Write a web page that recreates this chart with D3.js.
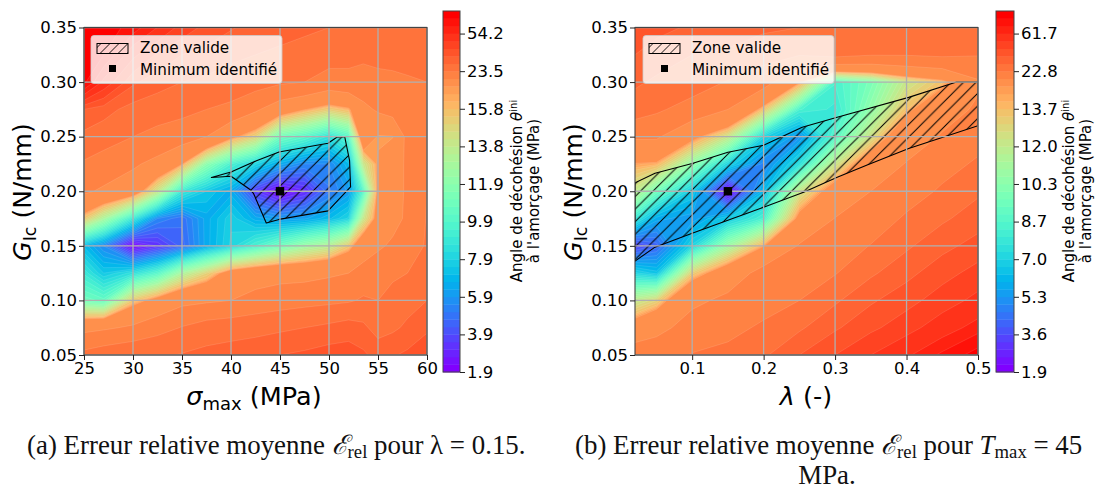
<!DOCTYPE html>
<html><head><meta charset="utf-8">
<script src="https://cdn.jsdelivr.net/npm/d3@7"></script>
<style>html,body{margin:0;padding:0;background:#fff}svg{display:block}</style>
</head><body>
<svg id="c" width="1097" height="490"></svg>
<script>
const gRows=[0.05,0.075,0.1,0.125,0.15,0.175,0.2,0.225,0.25,0.275,0.3,0.325,0.35];
const sigmaCols=[25,27,30,32.5,35,37.5,40,42.5,45,47.5,50,52,53.5,55,56.5,58,60];
const lambdaCols=[0.02,0.05,0.1,0.15,0.2,0.25,0.3,0.35,0.4,0.45,0.5];
const zA=[
[24.5,25.5,26.5,27.2,28.3,29.5,30.5,31.7,33,34,35.5,36,34,31,32.5,34,37],
[19,19.5,20.5,22,23.7,25,25.5,26,27,28,29,30,29,26,27,29,32],
[11,10.5,15.5,17.3,19,19.5,20,21,21.5,22,22.5,23,24,23.5,24.5,26,28],
[9,7.5,8.5,10,13,15,17.6,18.5,19,19,19.5,20,21,22,23,23.5,25],
[7,5.5,2,3.2,4.5,6.5,8,9.5,11,12.5,13.5,15.5,18.5,19.5,20.5,21,24],
[15.5,13,9,5.5,4.8,6.5,7.8,6.5,6,6.2,7,8,14,17.3,19,20.5,23.7],
[20.5,19.5,18,14,9,7.5,6.5,3.5,2,3,5,6,10,17,18.5,20.5,23.5],
[23,22,20.5,19,16.5,12,9.5,8,6.5,5.5,5.5,7,14,16.6,18.5,20.5,22.5],
[26.5,25,23.5,22.5,21.5,20,17,15,11,10,8.5,10,18.8,16.2,16.3,21,22.5],
[33,30,26,25,24.5,23.5,22.5,20.5,18,16.5,15.3,16.1,19,20.5,21.5,22,23],
[72,52,34,30,28,27,26,25,24,23.5,22,22.5,22.5,23,23,23,23.5],
[76,70,48,38,33,31,29,28,27,26,25,24.5,24,24,24.2,25,25],
[80,76,66,54,43,37,33.5,31,30,29,28,27.5,27,27,27,27,27]];
const zB=[
[21,21.5,23,24,27,34,41,50,60,72,85],
[15.5,17,20.5,21.5,23.5,27,33,39,46,56,66],
[12,13,17.5,19.5,21,22.8,27,33,38,45,53],
[7.1,6.5,13.2,16,20,20.3,22.5,27,32,38,44],
[3.3,4.1,7.1,10.9,14.2,18.8,20,23,27,32,36.5],
[7.9,5.8,5.4,6.7,8.4,15,18.6,20,23.5,27,31],
[12,9.6,6.7,1.95,6.2,12.2,15.5,18.5,20.5,23.5,27],
[14.2,14,10.5,7.1,4.8,7.5,12.2,16,18.7,21,23.5],
[19,19,15,12.2,7.1,5.2,8.8,12.4,16.5,18.8,21],
[25,23.5,21,18.5,13.5,8.4,7.9,10.5,13.7,17,19],
[29,27,25,22.5,20,14.5,8.4,9.8,12.2,13.6,18],
[34,31,28,27,24.5,23,24,23,23,23.5,23],
[40,36,33,31,29,28,27.5,27,27,26,25]];
const levelsA=[1.9,2.3,2.7,3.1,3.5,3.9,4.3,4.7,5.1,5.5,5.9,6.3,6.7,7.1,7.5,7.9,8.3,8.7,9.1,9.5,9.9,10.3,10.7,11.1,11.5,11.9,12.3,12.7,13.0,13.4,13.8,14.2,14.6,15.0,15.4,15.8,16.0,16.2,16.4,20,23.5,28,33,39,46,54.2,62,70,85];
const levelsB=[1.9,2.24,2.58,2.92,3.26,3.6,3.94,4.28,4.62,4.96,5.3,5.64,5.98,6.32,6.66,7.0,7.34,7.68,8.02,8.36,8.7,9.02,9.34,9.66,9.98,10.3,10.64,10.98,11.32,11.66,12.0,12.34,12.68,13.02,13.36,13.7,13.9,14.1,14.3,18.5,22.8,28,34,41,50,61.7,70,80,95];
const zoneSigma=[38,40,41.9,42.3,43.6,44.9,49.9,52.2,52.1,51.6,50.8,49.9,44.9,42.6,40];
const zoneGA=[0.2126,0.2138,0.2019,0.198,0.171,0.1742,0.182,0.204,0.228,0.25,0.2495,0.244,0.236,0.228,0.2177];
const zoneLambda=[0.02,0.048,0.1,0.15,0.2,0.254,0.303,0.403,0.47,0.5,0.5,0.403,0.344,0.303,0.256,0.2,0.1,0.048,0.02];
const zoneGB=[0.2077,0.2165,0.2254,0.2357,0.2421,0.2586,0.2677,0.286,0.3,0.3,0.26,0.2392,0.2238,0.2128,0.199,0.1854,0.1616,0.1488,0.136];
const xTicksA=[25,30,35,40,45,50,55,60];
const xTicksB=[0.1,0.2,0.3,0.4,0.5];
const yTicks=[0.05,0.1,0.15,0.2,0.25,0.3,0.35];
const minA=[45,0.2], minB=[0.15,0.2];

const rainbow=t=>{const r=Math.min(1,Math.abs(2*t-0.5)),g=Math.sin(Math.PI*t),b=Math.cos(Math.PI*t/2);
  return d3.rgb(255*r,255*g,255*b).formatHex();};
const svg=d3.select('#c');
const FONT='"DejaVu Sans"';
const defs=svg.append('defs');
const hp=defs.append('pattern').attr('id','hatch').attr('patternUnits','userSpaceOnUse').attr('width',12.6).attr('height',12.6);
hp.append('path').attr('d','M-2,14.6L14.6,-2M-2,2L2,-2M10.6,14.6L14.6,10.6').attr('stroke','#000').attr('stroke-width',1);
const hpL=defs.append('pattern').attr('id','hatchL').attr('patternUnits','userSpaceOnUse').attr('width',9).attr('height',9);
hpL.append('path').attr('d','M-2,11L11,-2M-2,2L2,-2M7,11L11,7').attr('stroke','#000').attr('stroke-width',0.9);

function panel(o){
  const g=svg.append('g');
  const x=d3.scaleLinear().domain(o.xDomain).range([o.x0,o.x1]);
  const y=d3.scaleLinear().domain([0.05,0.35]).range([355,27.5]);
  const id='clip'+o.key;
  defs.append('clipPath').attr('id',id).append('rect').attr('x',o.x0).attr('y',27.5).attr('width',o.x1-o.x0).attr('height',327.5);
  const nx=o.cols.length,ny=gRows.length;
  const ix=d3.scaleLinear().domain(d3.range(nx)).range(o.cols.map(x));
  const iy=d3.scaleLinear().domain(d3.range(ny)).range(gRows.map(y));
  const proj=d3.geoTransform({point(a,b){this.stream.point(ix(a-0.5),iy(b-0.5));}});
  const path=d3.geoPath(proj);
  const flat=o.z.flat();
  const n=o.levels.length-1;
  const thresholds=o.levels.slice(0,n);
  const cs=d3.contours().size([nx,ny]).thresholds(thresholds)(flat);
  const plot=g.append('g').attr('clip-path',`url(#${id})`);
  plot.selectAll('path.band').data(cs).join('path').attr('class','band')
    .attr('d',path).attr('fill',(d,i)=>rainbow(i/(n-1)))
    .attr('stroke','rgba(255,255,255,0.2)').attr('stroke-width',0.6);
  // grid
  g.append('g').selectAll('line').data(o.xTicks).join('line')
    .attr('x1',x).attr('x2',x).attr('y1',27.5).attr('y2',355).attr('stroke','#b0b0b0').attr('stroke-width',1.3);
  g.append('g').selectAll('line').data(yTicks).join('line')
    .attr('x1',o.x0).attr('x2',o.x1).attr('y1',y).attr('y2',y).attr('stroke','#b0b0b0').attr('stroke-width',1.3);
  // zone
  const pts=o.zoneX.map((v,i)=>[x(v),y(o.zoneY[i])]);
  plot.append('path').attr('d',d3.line()(pts)+'Z').attr('fill','url(#hatch)').attr('stroke','#000').attr('stroke-width',1.1).attr('stroke-linejoin','round');
  g.append('rect').attr('x',x(o.min[0])-4.2).attr('y',y(o.min[1])-4.2).attr('width',8.4).attr('height',8.4).attr('fill','#000');
  // spines
  g.append('rect').attr('x',o.x0).attr('y',27.5).attr('width',o.x1-o.x0).attr('height',327.5).attr('fill','none').attr('stroke','#444').attr('stroke-width',1.1);
  // axes
  const ax=g.append('g').attr('transform','translate(0,355)').call(d3.axisBottom(x).tickValues(o.xTicks).tickFormat(o.xFmt).tickSize(5).tickPadding(2));
  const ay=g.append('g').attr('transform',`translate(${o.x0},0)`).call(d3.axisLeft(y).tickValues(yTicks).tickFormat(d3.format('.2f')).tickSize(5).tickPadding(2));
  [ax,ay].forEach(a=>{a.select('.domain').remove();a.selectAll('text').attr('font-family',FONT).attr('font-size',o.tickFs).attr('fill','#000');a.selectAll('line').attr('stroke','#222').attr('stroke-width',1);});
  // axis labels
  const xl=g.append('text').attr('x',o.xlx).attr('y',405).attr('text-anchor','middle').attr('font-family',FONT).attr('font-size',25.5);
  o.xLabel(xl);
  const yl=g.append('text').attr('transform',`translate(${o.x0-53},192) rotate(-90)`).attr('text-anchor','middle').attr('font-family',FONT).attr('font-size',25);
  yl.append('tspan').attr('font-style','italic').text('G');
  yl.append('tspan').attr('font-size',17.5).attr('dy',5).text('Ic');
  yl.append('tspan').attr('dy',-5).text(' (N/mm)');
  // colorbar
  const cx0=o.cbx,cw=o.cbw;
  const cby=d3.scaleLinear().domain([0,n]).range([372,11]);
  const cb=g.append('g');
  cb.selectAll('rect').data(d3.range(n)).join('rect').attr('x',cx0).attr('width',cw)
    .attr('y',i=>cby(i+1)).attr('height',i=>cby(i)-cby(i+1)+0.4).attr('fill',i=>rainbow(i/(n-1)));
  cb.append('rect').attr('x',cx0).attr('y',11).attr('width',cw).attr('height',361).attr('fill','none').attr('stroke','#444').attr('stroke-width',1);
  const tickIdx=d3.range(0,n,5);
  const caxis=g.append('g').attr('transform',`translate(${cx0+cw},0)`)
    .call(d3.axisRight(cby).tickValues(tickIdx).tickFormat(i=>o.levels[i].toFixed(1)).tickSize(5).tickPadding(2));
  caxis.select('.domain').remove();
  caxis.selectAll('text').attr('font-family',FONT).attr('font-size',o.tickFs).attr('fill','#000');
  caxis.selectAll('line').attr('stroke','#222');
  const cl=g.append('text').attr('transform',`translate(${cx0+cw+o.clOff},191) rotate(-90)`).attr('text-anchor','middle').attr('font-family',FONT).attr('font-size',15);
  cl.append('tspan').attr('x',0).attr('y',0).text("Angle de décohésion ");
  cl.append('tspan').attr('font-style','italic').text('θ');
  cl.append('tspan').attr('font-size',10).attr('dy',-5).text('ini');
  cl.append('tspan').attr('x',0).attr('y',16.5).text("à l'amorçage (MPa)");
  // legend
  const L=g.append('g').attr('transform',`translate(${o.lx},35.5)`);
  L.append('rect').attr('width',191).attr('height',48).attr('rx',3).attr('fill','rgba(255,255,255,0.8)').attr('stroke','rgba(204,204,204,0.8)');
  L.append('rect').attr('x',6).attr('y',8).attr('width',31).attr('height',10).attr('fill','url(#hatchL)').attr('stroke','#000').attr('stroke-width',1);
  L.append('rect').attr('x',18).attr('y',29.5).attr('width',7).attr('height',7).attr('fill','#000');
  L.append('text').attr('x',49).attr('y',17).attr('font-family',FONT).attr('font-size',15.2).text('Zone valide');
  L.append('text').attr('x',49).attr('y',39).attr('font-family',FONT).attr('font-size',15.2).text('Minimum identifié');
}
panel({key:'A',x0:84,x1:427,xDomain:[25,60],cols:sigmaCols,z:zA,levels:levelsA,xTicks:xTicksA,xFmt:d3.format('d'),
  zoneX:zoneSigma,zoneY:zoneGA,min:minA,tickFs:16.5,cbx:443,cbw:17,clOff:62,lx:91,xlx:254,
  xLabel:t=>{t.append('tspan').attr('font-style','italic').text('σ');t.append('tspan').attr('font-size',18).attr('dy',5).text('max');t.append('tspan').attr('dy',-5).text(' (MPa)');}});
panel({key:'B',x0:635,x1:978,xDomain:[0.02,0.5],cols:lambdaCols,z:zB,levels:levelsB,xTicks:xTicksB,xFmt:d3.format('.1f'),
  zoneX:zoneLambda,zoneY:zoneGB,min:minB,tickFs:16.5,cbx:996,cbw:18,clOff:60,lx:643,xlx:806,
  xLabel:t=>{t.append('tspan').attr('font-style','italic').text('λ');t.append('tspan').text(' (-)');}});
// captions
const cap=(x,y,anchor,build)=>{const t=svg.append('text').attr('x',x).attr('y',y).attr('text-anchor',anchor).attr('font-family','"Liberation Serif"').attr('font-size',26.9).attr('fill','#111');build(t);};
const sub=(t,s)=>{t.append('tspan').attr('font-size',18.7).attr('dy',4).text(s);};
cap(27,453.5,'start',t=>{t.append('tspan').text('(a) Erreur relative moyenne ');t.append('tspan').attr('font-style','italic').text('ℰ');sub(t,'rel');t.append('tspan').attr('dy',-4).text(' pour λ = 0.15.');});
cap(575,453.5,'start',t=>{t.append('tspan').text('(b) Erreur relative moyenne ');t.append('tspan').attr('font-style','italic').text('ℰ');sub(t,'rel');t.append('tspan').attr('dy',-4).text(' pour ');t.append('tspan').attr('font-style','italic').text('T');sub(t,'max');t.append('tspan').attr('dy',-4).text(' = 45');});
cap(827,484,'middle',t=>{t.text('MPa.');});
</script>
</body></html>
